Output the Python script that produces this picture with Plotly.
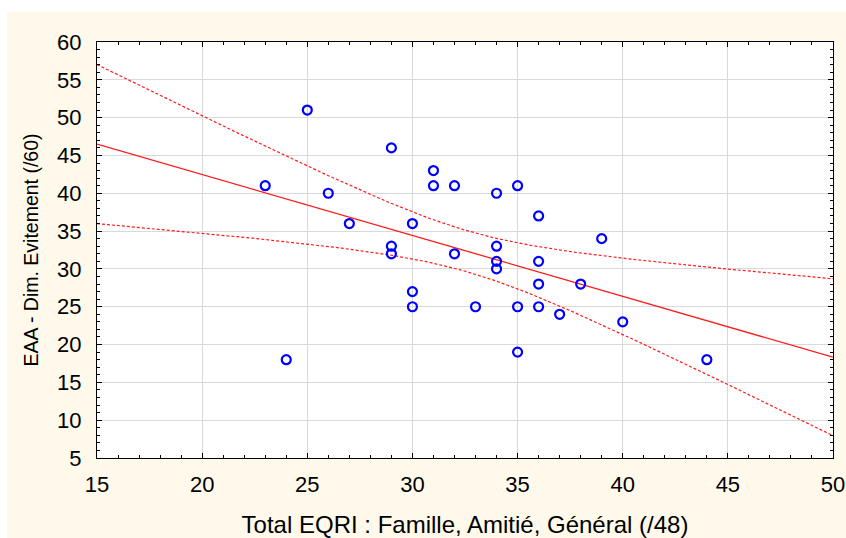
import numpy as np
import plotly.graph_objects as go

# Total EQRI scores and matching EAA avoidance scores
eqri = [23, 24, 25, 26, 27,
        29, 29, 29,
        30, 30, 30,
        31, 31,
        32, 32,
        33,
        34, 34, 34, 34,
        35, 35, 35,
        36, 36, 36, 36,
        37, 38, 39, 40, 44]
eaa = [41, 18, 51, 40, 36,
       46, 33, 32,
       36, 27, 25,
       43, 41,
       41, 32,
       25,
       40, 33, 31, 30,
       41, 25, 19,
       37, 31, 28, 25,
       24, 28, 34, 23, 18]

x_ticks = [15, 20, 25, 30, 35, 40, 45, 50]
y_ticks = [5, 10, 15, 20, 25, 30, 35, 40, 45, 50, 55, 60]

T_975_DF30 = 2.042  # Student t, 95 % two-sided, n - 2 = 30 df

x = np.asarray(eqri, dtype=float)
y = np.asarray(eaa, dtype=float)
n = len(x)
slope, intercept = np.polyfit(x, y, 1)
resid = y - (slope * x + intercept)
s = np.sqrt(np.sum(resid ** 2) / (n - 2))
sxx = np.sum((x - x.mean()) ** 2)

xs = np.linspace(x_ticks[0], x_ticks[-1], 200)
fit = slope * xs + intercept
half = T_975_DF30 * s * np.sqrt(1.0 / n + (xs - x.mean()) ** 2 / sxx)

RED = "#FF1A1A"
BLUE = "#0000FF"
CREAM = "#FFF9EC"
FONT = "Liberation Sans, Arial, sans-serif"

fig = go.Figure()
fig.add_trace(go.Scatter(x=xs, y=fit + half, mode="lines",
                         line=dict(color=RED, width=1.2, dash="3px,2px")))
fig.add_trace(go.Scatter(x=xs, y=fit - half, mode="lines",
                         line=dict(color=RED, width=1.2, dash="3px,2px")))
fig.add_trace(go.Scatter(x=xs, y=fit, mode="lines",
                         line=dict(color=RED, width=1.3)))
fig.add_trace(go.Scatter(x=eqri, y=eaa, mode="markers",
                         marker=dict(symbol="circle-open", size=9, color=BLUE,
                                     line=dict(width=2.2, color=BLUE))))

axis_common = dict(
    showline=True, linecolor="black", linewidth=1, mirror="allticks",
    ticks="inside", ticklen=5, tickcolor="black",
    showgrid=True, gridcolor="#D9D9D9", gridwidth=1,
    zeroline=False, automargin=False,
    tickfont=dict(family=FONT, size=22, color="black"),
    minor=dict(ticks="inside", ticklen=3, tickcolor="black", dtick=1, showgrid=False),
)

fig.update_xaxes(range=[x_ticks[0], x_ticks[-1]], tickvals=x_ticks,
                 ticklabelstandoff=7,
                 title=dict(text="Total EQRI : Famille, Amitié, Général (/48)",
                            font=dict(family=FONT, size=24, color="black"),
                            standoff=20),
                 **axis_common)
fig.update_yaxes(range=[y_ticks[0], y_ticks[-1]], tickvals=y_ticks,
                 ticklabelstandoff=10,
                 title=dict(text="EAA - Dim. Evitement (/60)",
                            font=dict(family=FONT, size=19.5, color="black"),
                            standoff=13),
                 **axis_common)

# white page strips along the top and left edges
fig.add_shape(type="rect", xref="paper", yref="paper",
              x0=-0.3, x1=1.2, y0=1 + 30 / 416, y1=1.3,
              fillcolor="white", line=dict(width=0), layer="below")
fig.add_shape(type="rect", xref="paper", yref="paper",
              x0=-0.3, x1=-90 / 736, y0=-0.5, y1=1.3,
              fillcolor="white", line=dict(width=0), layer="below")

fig.update_layout(
    width=846, height=538,
    margin=dict(l=97, r=13, t=42, b=80),
    paper_bgcolor=CREAM, plot_bgcolor="white",
    showlegend=False,
)

fig.write_html("out.html")
